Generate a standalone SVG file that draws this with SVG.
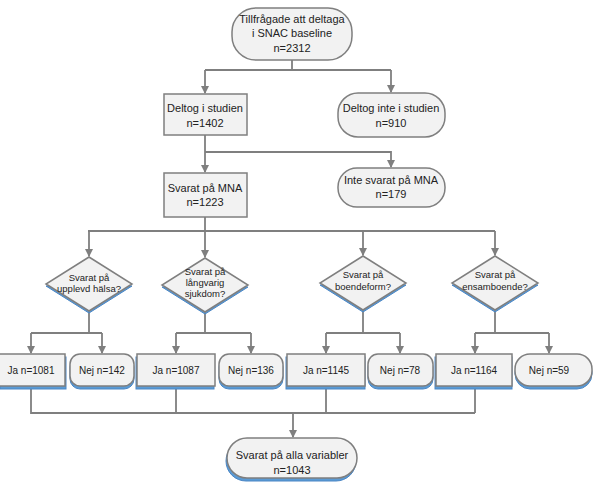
<svg xmlns="http://www.w3.org/2000/svg" width="595" height="484" viewBox="0 0 595 484">
<style>
.n{fill:#f2f2f2;stroke:#7f7f7f;stroke-width:1.5}
.s{fill:#5b9bd5;stroke:#4a86c5;stroke-width:1}
.c{fill:none;stroke:#7f7f7f;stroke-width:1.8}
text{font-family:"Liberation Sans",Arial,sans-serif;font-size:11px;fill:#222;text-anchor:middle}
.d{font-size:9.5px}
.r{font-size:10px}
</style>
<defs>
<marker id="a" markerWidth="8" markerHeight="8" refX="7" refY="4" orient="auto" markerUnits="userSpaceOnUse">
<path d="M0,0 L8,4 L0,8 Z" fill="#7f7f7f"/>
</marker>
</defs>
<rect width="595" height="484" fill="#fff"/>
<g id="connectors">
<path class="c" d="M292,60 V70 M205,70 H391"/>
<path class="c" d="M205,70 V93" marker-end="url(#a)"/>
<path class="c" d="M391,70 V92" marker-end="url(#a)"/>
<path class="c" d="M205,135 V172" marker-end="url(#a)"/>
<path class="c" d="M205,152 H391 V167" marker-end="url(#a)"/>
<path class="c" d="M205,217 V231 M88,231 H495"/>
<path class="c" d="M89,231 V256" marker-end="url(#a)"/>
<path class="c" d="M205,231 V257" marker-end="url(#a)"/>
<path class="c" d="M363,231 V255" marker-end="url(#a)"/>
<path class="c" d="M495,231 V255" marker-end="url(#a)"/>
<path class="c" d="M89,311 V333 M31,333 H102 M205,312 V333 M176,333 H251 M363,310 V333 M326,333 H400 M495,310 V333 M475,333 H549"/>
<path class="c" d="M31,333 V353" marker-end="url(#a)"/>
<path class="c" d="M102,333 V353" marker-end="url(#a)"/>
<path class="c" d="M176,333 V353" marker-end="url(#a)"/>
<path class="c" d="M251,333 V353" marker-end="url(#a)"/>
<path class="c" d="M326,333 V353" marker-end="url(#a)"/>
<path class="c" d="M400,333 V353" marker-end="url(#a)"/>
<path class="c" d="M475,333 V353" marker-end="url(#a)"/>
<path class="c" d="M549,333 V353" marker-end="url(#a)"/>
<path class="c" d="M31,388 V413 H475 M176,388 V413 M326,388 V413 M475,388 V413"/>
<path class="c" d="M293,413 V437" marker-end="url(#a)"/>
</g>
<g id="start">
<rect class="n" x="232" y="8" width="120" height="52" rx="24"/>
<text x="292" y="23">Tillfrågade att deltaga</text>
<text x="292" y="37">i SNAC baseline</text>
<text x="292" y="52">n=2312</text>
</g>
<g id="deltog">
<rect class="n" x="164" y="94" width="83" height="41"/>
<text x="205" y="112">Deltog i studien</text>
<text x="205" y="127">n=1402</text>
</g>
<g id="deltog-inte">
<rect class="n" x="338" y="93" width="107" height="44" rx="20"/>
<text x="391" y="112">Deltog inte i studien</text>
<text x="391" y="127">n=910</text>
</g>
<g id="inte-mna">
<rect class="n" x="338" y="168" width="107" height="39" rx="19"/>
<text x="391" y="184">Inte svarat på MNA</text>
<text x="391" y="198">n=179</text>
</g>
<g id="mna">
<rect class="n" x="164" y="173" width="83" height="44"/>
<text x="205" y="192">Svarat på MNA</text>
<text x="205" y="206">n=1223</text>
</g>
<g id="q1">
<path class="s" d="M46,286 L89,313 L132,286 Z"/>
<path class="n" d="M89,257 L132,284 L89,311 L46,284 Z"/>
<text class="d" x="89" y="281">Svarat på</text>
<text class="d" x="89" y="292">upplevd hälsa?</text>
</g>
<g id="q2">
<path class="s" d="M162,287 L205,314 L248,287 Z"/>
<path class="n" d="M205,258 L248,285 L205,312 L162,285 Z"/>
<text class="d" x="205" y="275">Svarat på</text>
<text class="d" x="205" y="286">långvarig</text>
<text class="d" x="205" y="297">sjukdom?</text>
</g>
<g id="q3">
<path class="s" d="M320,285 L363,312 L406,285 Z"/>
<path class="n" d="M363,256 L406,283 L363,310 L320,283 Z"/>
<text class="d" x="363" y="278">Svarat på</text>
<text class="d" x="363" y="290">boendeform?</text>
</g>
<g id="q4">
<path class="s" d="M452,285 L495,312 L538,285 Z"/>
<path class="n" d="M495,256 L538,283 L495,310 L452,283 Z"/>
<text class="d" x="495" y="278">Svarat på</text>
<text class="d" x="495" y="290">ensamboende?</text>
</g>
<g id="ja1081">
<rect class="s" x="0" y="357" width="66" height="32"/>
<rect class="n" x="-1" y="354" width="66" height="32"/>
<text class="r" x="31" y="374">Ja n=1081</text>
</g>
<g id="nej142">
<rect class="s" x="70" y="357" width="64" height="32" rx="10"/>
<rect class="n" x="70" y="354" width="64" height="32" rx="10"/>
<text class="r" x="102" y="374">Nej n=142</text>
</g>
<g id="ja1087">
<rect class="s" x="136" y="357" width="78" height="32"/>
<rect class="n" x="137" y="354" width="78" height="32"/>
<text class="r" x="176" y="374">Ja n=1087</text>
</g>
<g id="nej136">
<rect class="s" x="219" y="357" width="64" height="32" rx="10"/>
<rect class="n" x="219" y="354" width="64" height="32" rx="10"/>
<text class="r" x="251" y="374">Nej n=136</text>
</g>
<g id="ja1145">
<rect class="s" x="286" y="357" width="79" height="32"/>
<rect class="n" x="287" y="354" width="78" height="32"/>
<text class="r" x="326" y="374">Ja n=1145</text>
</g>
<g id="nej78">
<rect class="s" x="368" y="357" width="65" height="32" rx="10"/>
<rect class="n" x="368" y="354" width="65" height="32" rx="10"/>
<text class="r" x="400" y="374">Nej n=78</text>
</g>
<g id="ja1164">
<rect class="s" x="435" y="357" width="77" height="32"/>
<rect class="n" x="436" y="354" width="76" height="32"/>
<text class="r" x="474" y="374">Ja n=1164</text>
</g>
<g id="nej59">
<rect class="s" x="515" y="357" width="77" height="32" rx="15"/>
<rect class="n" x="515" y="354" width="77" height="32" rx="15"/>
<text class="r" x="549" y="374">Nej n=59</text>
</g>
<g id="alla">
<rect class="s" x="226" y="441" width="130" height="40" rx="20"/>
<rect class="n" x="227" y="438" width="130" height="40" rx="20"/>
<text x="292" y="459">Svarat på alla variabler</text>
<text x="292" y="474">n=1043</text>
</g>
</svg>
